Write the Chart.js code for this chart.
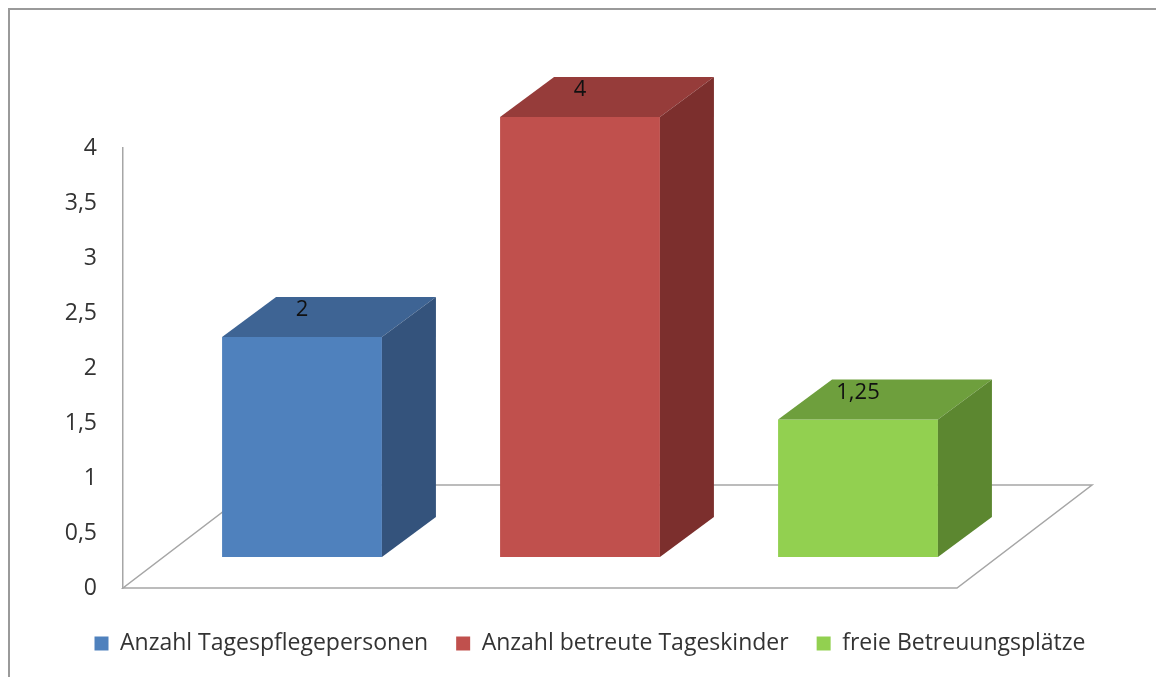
<!DOCTYPE html>
<html>
<head>
<meta charset="utf-8">
<script src="https://cdn.jsdelivr.net/npm/chart.js@4"></script>
<style>
  html, body { margin: 0; padding: 0; background: #fff; }
  canvas { display: block; }
</style>
</head>
<body>
<canvas id="chart" width="1156" height="677"></canvas>
<script>
// Daten
const categories = ["Anzahl Tagespflegepersonen", "Anzahl betreute Tageskinder", "freie Betreuungsplätze"];
const values = [2, 4, 1.25];
const yTickValues = [0, 0.5, 1, 1.5, 2, 2.5, 3, 3.5, 4];

// Farben: Vorderseite, Deckel, Seite
const frontColors = ["#4f81bd", "#c0504d", "#92d050"];
const topColors = ["#3e6494", "#963c3a", "#6e9f3d"];
const sideColors = ["#34537c", "#7c2f2d", "#5c8730"];

const FONT = "'Open Sans', sans-serif";
const TEXT = "#333333";

// Versatz für die 3D-Darstellung
const FRONT = { dx: 40, dy: -31 };
const DEPTH = { dx: 54, dy: -40 };
const FLOOR = { dx: 135, dy: -103 };

const fmt = v => String(v).replace(".", ",");

/* =======================
   3D-BALKEN PLUGIN
======================= */
const bars3d = {
  id: "bars3d",
  beforeDraw(chart) {
    const ctx = chart.ctx;
    ctx.save();
    ctx.strokeStyle = "#9a9a9a";
    ctx.lineWidth = 2;
    ctx.beginPath();
    ctx.moveTo(9, chart.height + 5);
    ctx.lineTo(9, 9);
    ctx.lineTo(chart.width + 5, 9);
    ctx.stroke();
    ctx.restore();
  },
  beforeDatasetsDraw(chart) {
    const ctx = chart.ctx;
    const a = chart.chartArea;
    // Boden
    ctx.save();
    ctx.strokeStyle = "#a6a6a6";
    ctx.lineWidth = 1.5;
    ctx.beginPath();
    ctx.moveTo(a.left, a.bottom);
    ctx.lineTo(a.right, a.bottom);
    ctx.lineTo(a.right + FLOOR.dx, a.bottom + FLOOR.dy);
    ctx.lineTo(a.left + FLOOR.dx, a.bottom + FLOOR.dy);
    ctx.closePath();
    ctx.stroke();
    ctx.restore();

    ctx.save();
    ctx.translate(FRONT.dx, FRONT.dy);
  },
  afterDatasetsDraw(chart) {
    const ctx = chart.ctx;
    const meta = chart.getDatasetMeta(0);
    meta.data.forEach((bar, i) => {
      const { x, y, base, width } = bar.getProps(["x", "y", "base", "width"], true);
      const l = x - width / 2, r = x + width / 2;

      // Deckel
      ctx.fillStyle = topColors[i];
      ctx.beginPath();
      ctx.moveTo(l, y);
      ctx.lineTo(r, y);
      ctx.lineTo(r + DEPTH.dx, y + DEPTH.dy);
      ctx.lineTo(l + DEPTH.dx, y + DEPTH.dy);
      ctx.closePath();
      ctx.fill();

      // Seite
      ctx.fillStyle = sideColors[i];
      ctx.beginPath();
      ctx.moveTo(r, y);
      ctx.lineTo(r + DEPTH.dx, y + DEPTH.dy);
      ctx.lineTo(r + DEPTH.dx, base + DEPTH.dy);
      ctx.lineTo(r, base);
      ctx.closePath();
      ctx.fill();

      // Wert
      ctx.fillStyle = "#111";
      ctx.font = "22px " + FONT;
      ctx.textAlign = "center";
      ctx.textBaseline = "middle";
      ctx.fillText(fmt(values[i]), x, y - 27);
    });
    ctx.restore();
  }
};

new Chart(document.getElementById("chart"), {
  type: "bar",
  data: {
    labels: categories,
    datasets: [{
      data: values,
      backgroundColor: frontColors,
      borderWidth: 0,
      barPercentage: 0.575,
      categoryPercentage: 1,
      clip: false
    }]
  },
  options: {
    responsive: false,
    animation: false,
    layout: { padding: { top: 148, left: 24, right: 0, bottom: 12 } },
    plugins: {
      tooltip: { enabled: false },
      legend: {
        position: "bottom",
        labels: {
          boxWidth: 14,
          boxHeight: 14,
          padding: 28,
          color: TEXT,
          font: { family: FONT, size: 23 },
          generateLabels: chart => chart.data.labels.map((t, i) => ({
            text: t,
            fillStyle: frontColors[i],
            strokeStyle: frontColors[i],
            lineWidth: 0,
            fontColor: TEXT,
            hidden: false,
            index: i
          }))
        }
      }
    },
    scales: {
      x: {
        display: true,
        grid: { display: false },
        border: { display: false },
        ticks: { display: false },
        afterFit: s => { s.height = 16; }
      },
      y: {
        min: 0,
        max: 4,
        afterBuildTicks: s => { s.ticks = yTickValues.map(v => ({ value: v })); },
        grid: { display: false },
        border: { display: true, color: "#a6a6a6", width: 1.5 },
        ticks: {
          padding: 18,
          color: TEXT,
          font: { family: FONT, size: 23 },
          callback: v => fmt(v)
        },
        afterFit: s => { s.width = 99; }
      },
      y2: {
        position: "right",
        display: true,
        grid: { display: false },
        border: { display: false },
        ticks: { display: false },
        afterFit: s => { s.width = 199; }
      }
    }
  },
  plugins: [bars3d]
});
</script>
</body>
</html>
